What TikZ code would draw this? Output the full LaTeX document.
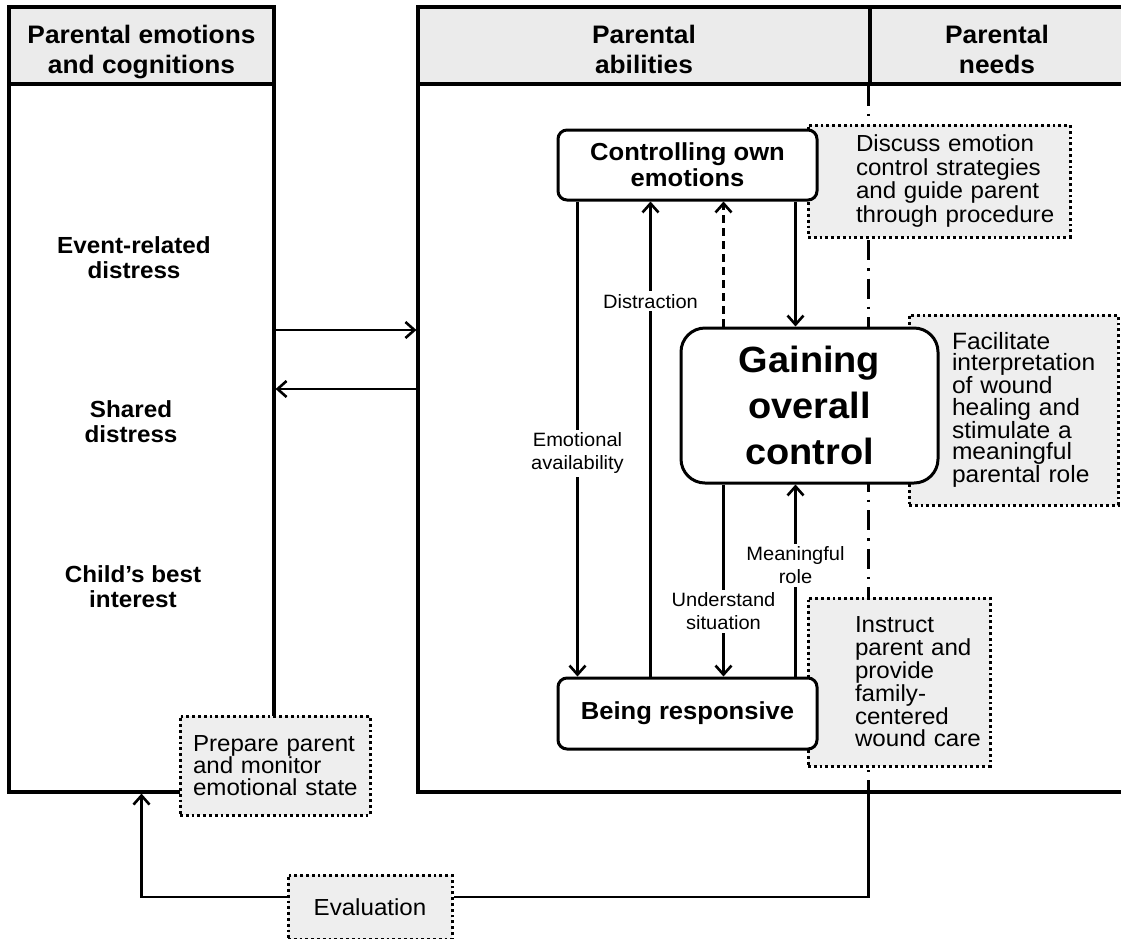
\documentclass[tikz,border=0pt]{standalone}
\usepackage{fontspec}
\setmainfont{Liberation Sans}[FakeStretch=1.04]
\usetikzlibrary{positioning,arrows.meta,calc}
\definecolor{headgray}{HTML}{EBEBEB}
\definecolor{tipgray}{HTML}{EEEEEE}

\begin{document}
\begin{tikzpicture}[
  x=1pt, y=-1pt,
  colhead/.style={
    draw, line width=3.2pt, fill=headgray, inner sep=0pt,
    minimum height=77pt, text height=62pt, text depth=7pt, align=center,
    font=\fontsize{25.3}{30}\selectfont\bfseries
  },
  panel/.style={draw, line width=3.2pt, inner sep=0pt, minimum height=708pt},
  factor/.style={align=center, font=\fontsize{23.3}{25}\selectfont\bfseries},
  skill/.style={
    draw, line width=3pt, fill=white, rounded corners=9pt,
    minimum width=259pt, inner sep=0pt, align=center,
    font=\fontsize{24.6}{26}\selectfont\bfseries
  },
  hub/.style={
    skill, rounded corners=24pt, minimum width=257pt, minimum height=155pt,
    font=\fontsize{36.5}{46}\selectfont\bfseries
  },
  tipbox/.style={
    draw, fill=tipgray, line width=3pt, dash pattern=on 2.8pt off 3pt,
    inner sep=0pt, align=left, font=\fontsize{23.2}{23.5}\selectfont
  },
  padl/.style={execute at begin node={\leftskip=#1}},
  lbl/.style={fill=white, inner sep=3pt, align=center, font=\fontsize{19.3}{23}\selectfont},
  arr/.style={-{Straight Barb[length=9pt,width=16pt,line width=2.6pt]}, line width=2.6pt},
  sepline/.style={line width=2.6pt, dash pattern=on 20pt off 8pt on 2.6pt off 8pt}
]
\useasboundingbox (0,0) rectangle (1121,938);

% column heads and panels
\node[colhead, minimum width=265pt] (emohead) at (141.5,45.5) {Parental emotions\\and cognitions};
\node[panel, minimum width=265pt] (emopanel) at (141.5,438) {};
\node[colhead, minimum width=452pt] (abilhead) at (644,45.5) {Parental\\abilities};
\node[colhead, minimum width=254pt, right=-3.2pt of abilhead] (needhead) {Parental\\needs};
\node[panel, minimum width=712pt] (abilpanel) at (774,438) {};

\node[factor] (evdist) at (134,258) {Event-related\\distress};
\node[factor] (shdist) at (131,422) {Shared\\distress};
\node[factor] (chint)  at (133,587) {Child's best\\interest};

\draw[arr] ([yshift=108pt]emopanel.east) -- ([yshift=108pt]abilpanel.west);
\draw[arr] ([yshift=49pt]abilpanel.west) -- ([yshift=49pt]emopanel.east);

\draw[sepline] (needhead.south west) -- (needhead.south west |- abilpanel.south);

% what the nurse does
\node[tipbox, minimum width=262pt, minimum height=112pt, text width=262pt, padl=48pt]
  (discnote) at (939,181)
  {Discuss emotion\\control strategies\\and guide parent\\through procedure};
\node[tipbox, minimum width=209pt, minimum height=190pt, text width=209pt, padl=43pt,
  font=\fontsize{23.6}{21.4}\selectfont]
  (facnote) at (1013.5,410)
  {Facilitate\\interpretation\\of wound\\healing and\\stimulate a\\meaningful\\parental role};
\node[tipbox, minimum width=182pt, minimum height=168pt, text width=182pt, padl=47pt,
  font=\fontsize{23.2}{22.8}\selectfont]
  (instnote) at (899,682)
  {Instruct\\parent and\\provide\\family-\\centered\\wound care};
\node[tipbox, minimum width=190pt, minimum height=99pt, text width=190pt, padl=13pt,
  font=\fontsize{23.2}{22}\selectfont]
  (prepnote) at (275,765.5)
  {Prepare parent\\and monitor\\emotional state};
\node[tipbox, minimum width=164pt, minimum height=64pt] (evalnote) at (370,907) {Evaluation};

% abilities
\node[skill, minimum height=70pt] (ctrl) at (687.5,165) {Controlling own\\emotions};
\node[hub] (gain) at (809.5,405.5) {Gaining\\overall\\control};
\node[skill, minimum height=71pt] (resp) at (687.5,713.5) {Being responsive};

\coordinate (ca) at ([xshift=21pt]ctrl.south west);
\coordinate (cb) at ([xshift=94pt]ctrl.south west);
\coordinate (cc) at ([xshift=167pt]ctrl.south west);
\coordinate (cd) at ([xshift=239pt]ctrl.south west);

\draw[arr] (ca) -- (ca |- resp.north) node[lbl, pos=0.53] {Emotional\\availability};
\draw[arr] (cb |- resp.north) -- (cb) node[lbl, pos=0.79] {Distraction};
\draw[arr, dash pattern=on 8pt off 5pt] (cc |- gain.north) -- (cc);
\draw[arr] (cd) -- (cd |- gain.north);
\draw[arr] (cc |- gain.south) -- (cc |- resp.north) node[lbl, pos=0.66] {Understand\\situation};
\draw[arr] (cd |- resp.north) -- (cd |- gain.south) node[lbl, pos=0.58] {Meaningful\\role};

% evaluation loop
\draw[line width=2.6pt] (needhead.south west |- abilpanel.south) |- ([yshift=10pt]evalnote.east);
\draw[arr] ([yshift=10pt]evalnote.west) -| (emopanel.south);

\end{tikzpicture}
\end{document}
